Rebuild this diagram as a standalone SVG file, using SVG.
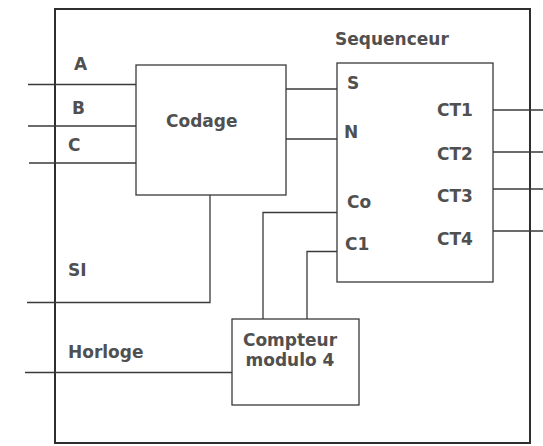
<svg xmlns="http://www.w3.org/2000/svg" width="543" height="446" viewBox="0 0 543 446">
<style>
.box{fill:none;stroke:#3a3a3a;stroke-width:1.3}
.outer{fill:none;stroke:#2e2e2e;stroke-width:2}
.w{fill:none;stroke:#3a3a3a;stroke-width:1.3}
text{font-family:"DejaVu Sans",Verdana,sans-serif;font-weight:bold;font-size:17px;fill:#505050}
</style>
<rect width="543" height="446" fill="#ffffff"/>
<g id="outer-box">
<rect class="outer" x="55" y="9" width="475" height="434"/>
<text x="74" y="70">A</text>
<text x="72" y="114">B</text>
<text x="68" y="151">C</text>
<text x="68" y="276">SI</text>
<text x="68" y="358">Horloge</text>
</g>
<g id="codage">
<rect class="box" x="136" y="65" width="150" height="130"/>
<text x="166" y="127">Codage</text>
</g>
<g id="sequenceur">
<text x="335" y="45">Sequenceur</text>
<rect class="box" x="337" y="63" width="156" height="219"/>
<text x="347" y="89">S</text>
<text x="344" y="138">N</text>
<text x="347" y="208">Co</text>
<text x="345" y="250">C1</text>
<text x="437" y="116">CT1</text>
<text x="437" y="160">CT2</text>
<text x="437" y="202">CT3</text>
<text x="437" y="245">CT4</text>
</g>
<g id="compteur">
<rect class="box" x="232" y="319" width="127" height="86"/>
<text x="290" y="346" text-anchor="middle">Compteur</text>
<text x="290" y="366" text-anchor="middle">modulo 4</text>
</g>
<g id="connectors">
<path class="w" d="M28 84.5H136"/>
<path class="w" d="M28 126H136"/>
<path class="w" d="M29 163H136"/>
<path class="w" d="M210 195V302.5H27"/>
<path class="w" d="M25 372.5H232"/>
<path class="w" d="M286 89H337"/>
<path class="w" d="M286 139H337"/>
<path class="w" d="M337 212.5H263V319"/>
<path class="w" d="M337 251.5H307V319"/>
<path class="w" d="M493 110H543"/>
<path class="w" d="M493 152H543"/>
<path class="w" d="M493 189H543"/>
<path class="w" d="M493 231H543"/>
</g>
</svg>
